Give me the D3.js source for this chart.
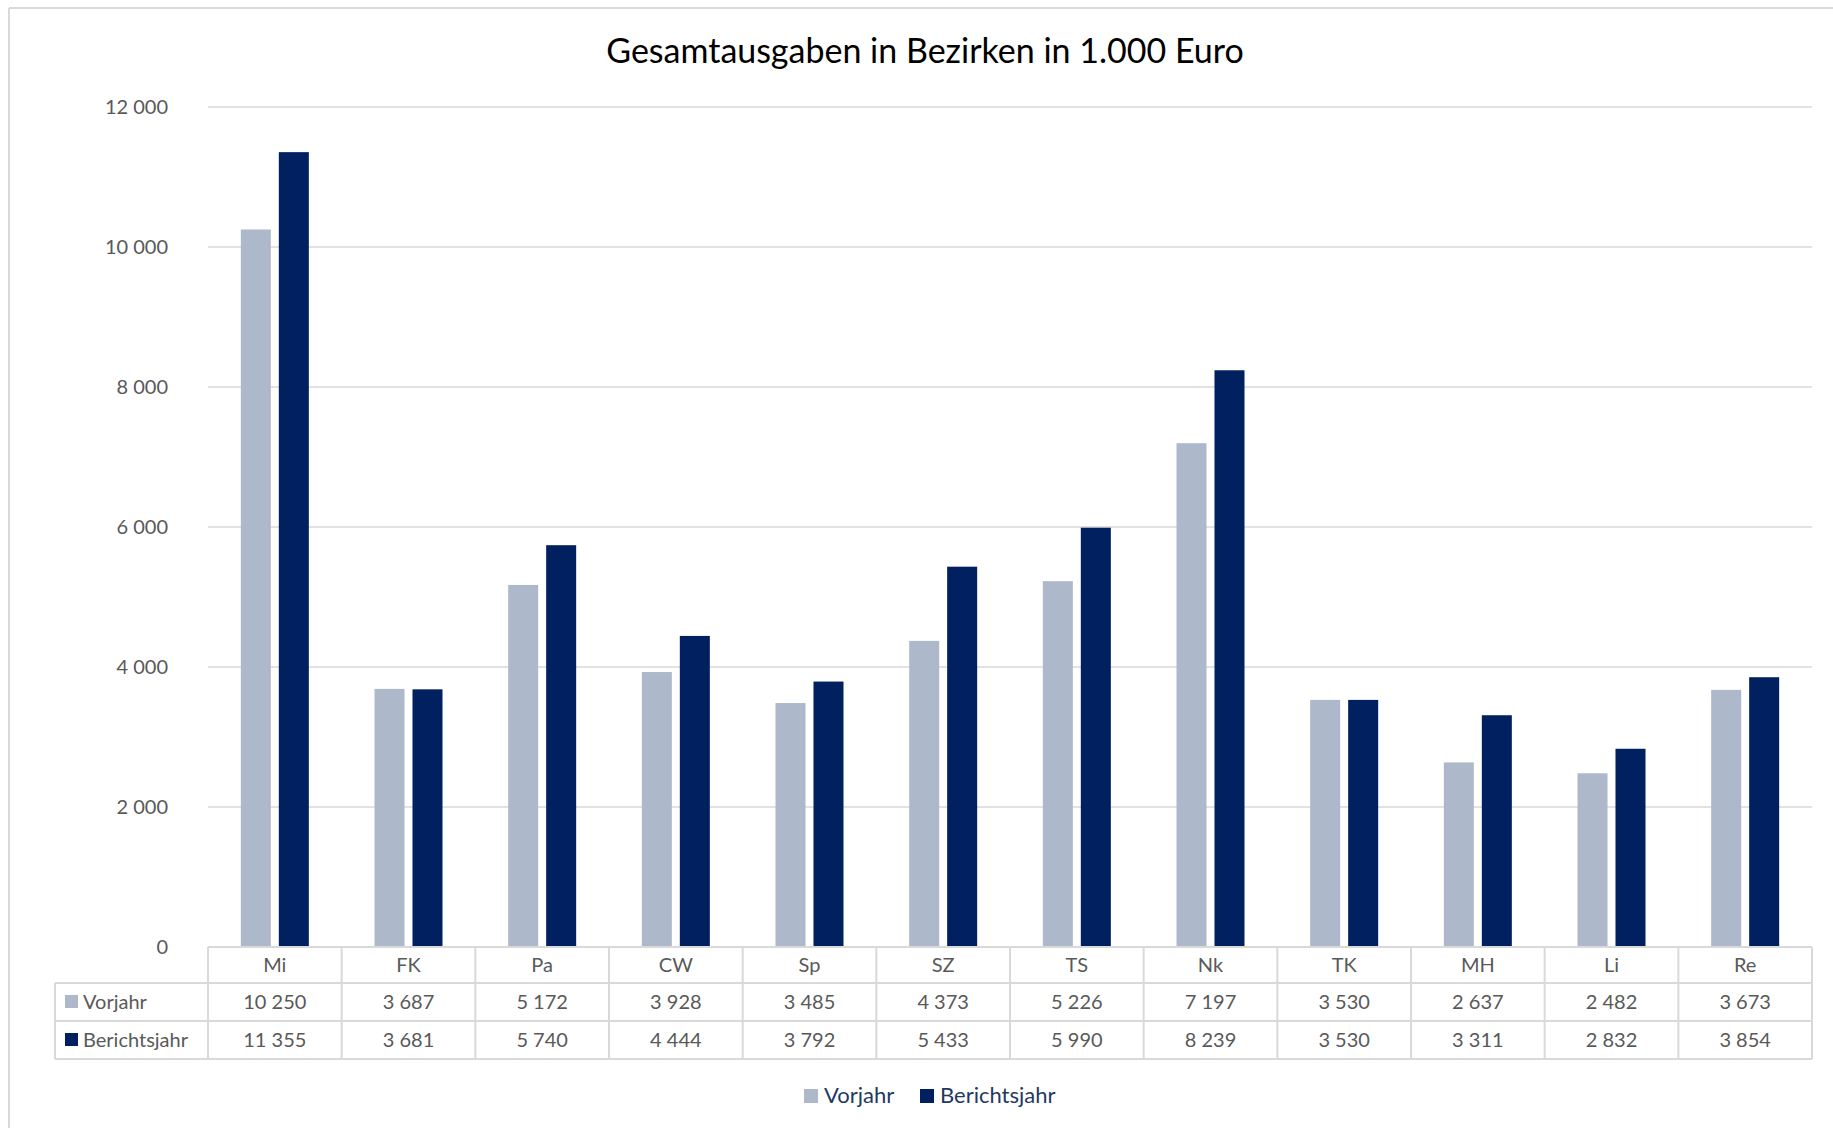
<!DOCTYPE html>
<html>
<head>
<meta charset="utf-8">
<script src="https://cdn.jsdelivr.net/npm/d3@7"></script>
<style>
  body { margin: 0; background: #fff; }
  text { font-family: Lato, "Open Sans", sans-serif; }
</style>
</head>
<body>
<div id="chart"></div>
<script>
var categories = ["Mi", "FK", "Pa", "CW", "Sp", "SZ", "TS", "Nk", "TK", "MH", "Li", "Re"];
var vorjahr = [10250, 3687, 5172, 3928, 3485, 4373, 5226, 7197, 3530, 2637, 2482, 3673];
var berichtsjahr = [11355, 3681, 5740, 4444, 3792, 5433, 5990, 8239, 3530, 3311, 2832, 3854];
var seriesNames = ["Vorjahr", "Berichtsjahr"];
var yTicks = [0, 2000, 4000, 6000, 8000, 10000, 12000];

var colors = ["#adb9ca", "#002060"];
var series = [vorjahr, berichtsjahr];

var width = 1833, height = 1128;
var plotLeft = 208, plotRight = 1812, plotTop = 107, plotBottom = 947;
var rows = [947, 983, 1021, 1059];
var grid = "#d9d9d9", textCol = "#595959";

var fmt = d3.formatLocale({ decimal: ",", thousands: " ", grouping: [3], currency: ["", "€"] }).format(",d");

var svg = d3
  .select("#chart")
  .append("svg")
  .attr("width", width)
  .attr("height", height);

// chart area border (only top and left are visible)
svg.append("line").attr("x1", 9).attr("x2", width).attr("y1", 8).attr("y2", 8)
  .style("stroke", grid).style("stroke-width", 2);
svg.append("line").attr("x1", 9).attr("x2", 9).attr("y1", 8).attr("y2", height)
  .style("stroke", grid).style("stroke-width", 2);

svg.append("text")
  .attr("x", 925).attr("y", 63)
  .style("text-anchor", "middle")
  .style("font-size", "34px")
  .style("fill", "#000")
  .text("Gesamtausgaben in Bezirken in 1.000 Euro");

var y = d3.scaleLinear().domain([0, 12000]).range([plotBottom, plotTop]);
var x0 = d3.scaleBand().domain(categories).range([plotLeft, plotRight]);
var x1 = d3.scaleBand().domain(seriesNames).range([0, 68]).paddingInner(0.21);
var groupOff = (x0.bandwidth() - 68) / 2;

// y axis: labels + gridlines
var yAxis = d3.axisLeft(y).tickValues(yTicks).tickFormat(fmt).tickSize(0).tickPadding(40);
var ga = svg.append("g").attr("transform", "translate(" + plotLeft + ",0)").call(yAxis);
ga.select(".domain").remove();
ga.selectAll("text").style("font-size", "20px").style("fill", textCol).style("font-family", "Lato, sans-serif");

svg.append("g")
  .selectAll("line")
  .data(yTicks.filter(function (d) { return d > 0; }))
  .enter()
  .append("line")
  .attr("x1", plotLeft).attr("x2", plotRight)
  .attr("y1", function (d) { return y(d); })
  .attr("y2", function (d) { return y(d); })
  .style("stroke", grid).style("stroke-width", 1.5);

// bars
series.forEach(function (vals, s) {
  svg.append("g")
    .selectAll("rect")
    .data(vals)
    .enter()
    .append("rect")
    .attr("x", function (d, i) { return x0(categories[i]) + groupOff + x1(seriesNames[s]); })
    .attr("width", x1.bandwidth())
    .attr("y", function (d) { return y(d); })
    .attr("height", function (d) { return y(0) - y(d); })
    .style("fill", colors[s]);
});

// data table
var tbl = svg.append("g").style("stroke", grid).style("stroke-width", 2);
tbl.append("line").attr("x1", plotLeft).attr("x2", plotRight).attr("y1", rows[0]).attr("y2", rows[0]);
rows.slice(1).forEach(function (r) {
  tbl.append("line").attr("x1", 55).attr("x2", plotRight).attr("y1", r).attr("y2", r);
});
categories.forEach(function (c) {
  tbl.append("line").attr("x1", x0(c)).attr("x2", x0(c)).attr("y1", rows[0]).attr("y2", rows[3]);
});
tbl.append("line").attr("x1", plotRight).attr("x2", plotRight).attr("y1", rows[0]).attr("y2", rows[3]);
tbl.append("line").attr("x1", 55).attr("x2", 55).attr("y1", rows[1]).attr("y2", rows[3]);

svg.append("g")
  .selectAll("text")
  .data(categories)
  .enter()
  .append("text")
  .attr("x", function (d) { return x0(d) + x0.bandwidth() / 2; })
  .attr("y", (rows[0] + rows[1]) / 2)
  .attr("dy", "0.35em")
  .style("text-anchor", "middle")
  .style("font-size", "20px")
  .style("fill", textCol)
  .text(function (d) { return d; });

series.forEach(function (vals, s) {
  var cy = (rows[s + 1] + rows[s + 2]) / 2;
  svg.append("g")
    .selectAll("text")
    .data(vals)
    .enter()
    .append("text")
    .attr("x", function (d, i) { return x0(categories[i]) + x0.bandwidth() / 2; })
    .attr("y", cy)
    .attr("dy", "0.35em")
    .style("text-anchor", "middle")
    .style("font-size", "20px")
    .style("fill", textCol)
    .text(function (d) { return fmt(d); });
  svg.append("rect")
    .attr("x", 65).attr("y", cy - 7).attr("width", 13).attr("height", 13)
    .style("fill", colors[s]);
  svg.append("text")
    .attr("x", 83).attr("y", cy)
    .attr("dy", "0.35em")
    .style("font-size", "20px")
    .style("fill", textCol)
    .text(seriesNames[s]);
});

// legend
var legX = [804, 920];
seriesNames.forEach(function (n, s) {
  svg.append("rect")
    .attr("x", legX[s]).attr("y", 1089).attr("width", 14).attr("height", 14)
    .style("fill", colors[s]);
  svg.append("text")
    .attr("x", legX[s] + 20).attr("y", 1103)
    .style("font-size", "22px")
    .style("fill", "#1f3864")
    .text(n);
});
</script>
</body>
</html>
